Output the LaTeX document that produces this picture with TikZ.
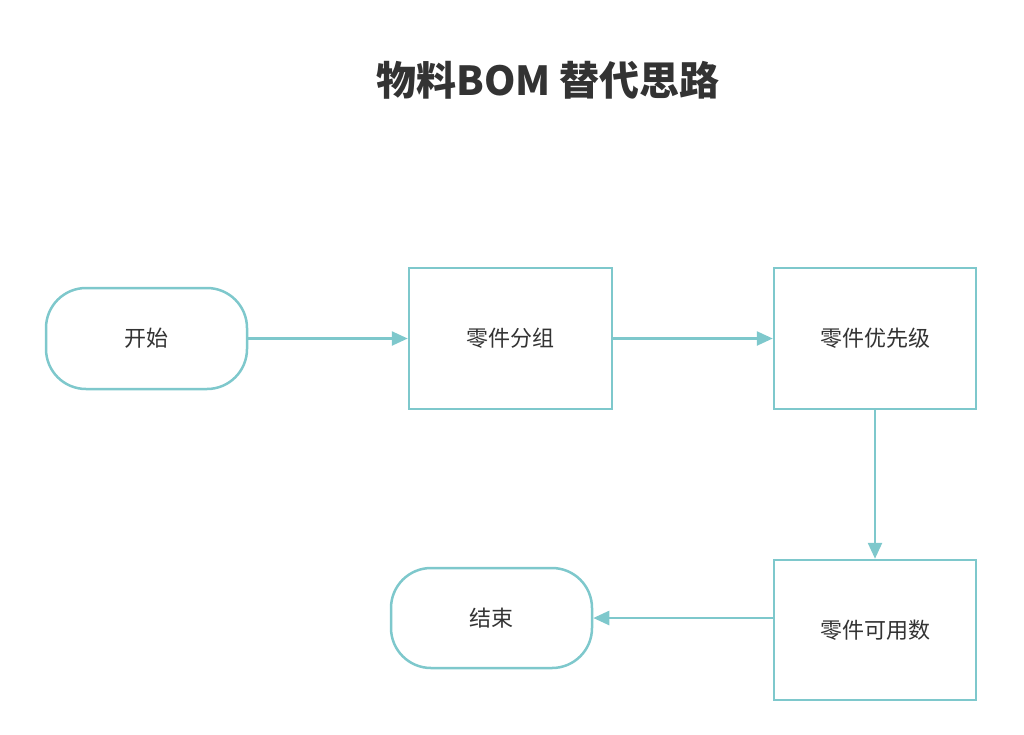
\documentclass[tikz,border=0pt]{standalone}
\usepackage{fontspec}
\setmainfont{Noto Sans CJK SC}
\usetikzlibrary{arrows.meta}
\definecolor{teal}{RGB}{126,200,204}
\definecolor{txt}{RGB}{51,51,51}
\begin{document}
\begin{tikzpicture}[x=1pt,y=-1pt,
  box/.style={draw=teal,line width=2.5pt,fill=white,text=txt,font=\fontsize{22}{26}\selectfont},
  term/.style={box,rounded corners=40pt},
  arr/.style={draw=teal,line width=2.5pt,-{Triangle[length=16pt,width=14pt]}}]
\useasboundingbox (0,0) rectangle (1024,734);
\node[font=\bfseries\fontsize{40}{46}\selectfont,text=txt] (title) at (548,80) {物料BOM 替代思路};
\node[term,minimum width=201pt,minimum height=101pt] (start) at (146.5,338.5) {开始};
\node[box,minimum width=203pt,minimum height=141pt] (group) at (510.5,338.5) {零件分组};
\node[box,minimum width=202pt,minimum height=141pt] (prio) at (875,338.5) {零件优先级};
\node[box,minimum width=202pt,minimum height=140pt] (avail) at (875,630) {零件可用数};
\node[term,minimum width=201pt,minimum height=100pt] (end) at (491.5,618) {结束};
\draw[arr] (start) -- (group);
\draw[arr] (group) -- (prio);
\draw[arr] (prio) -- (avail);
\draw[arr] (avail.west |- end) -- (end);
\end{tikzpicture}
\end{document}
